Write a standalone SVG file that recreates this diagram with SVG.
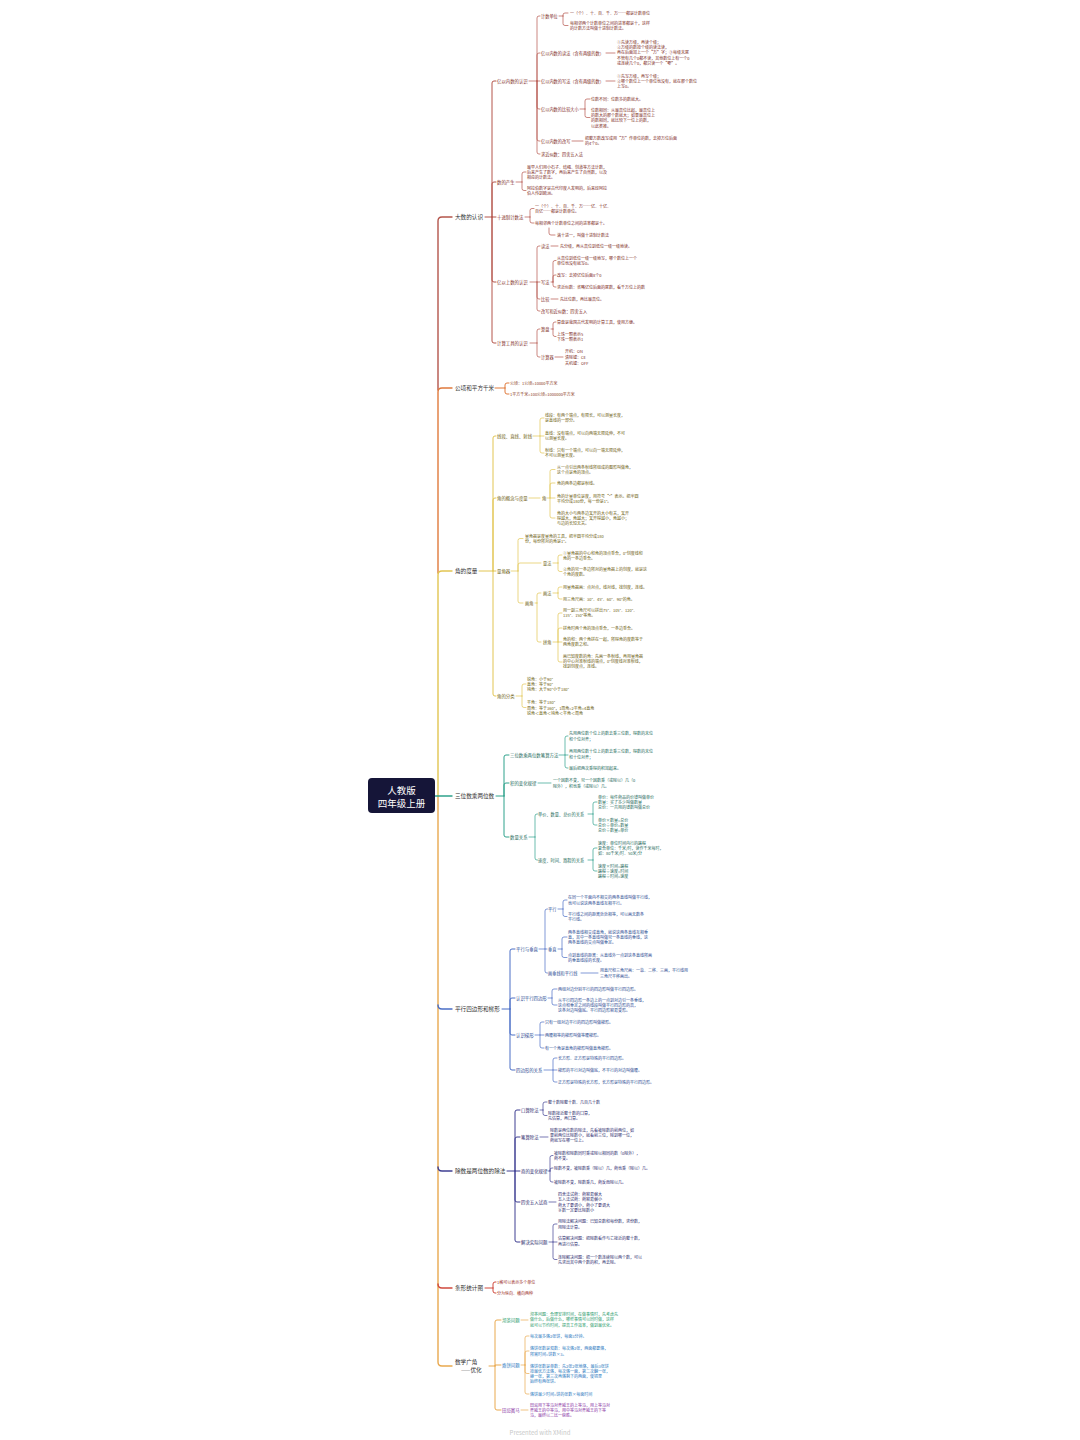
<svg xmlns="http://www.w3.org/2000/svg" width="1080" height="1440" viewBox="0 0 1080 1440">
<style>
.t{font-family:"Noto Sans CJK SC","Noto Sans",sans-serif;dominant-baseline:central}
.r{font-size:9.5px;fill:#fff;text-anchor:middle}
.m{font-size:5.6px;fill:#333}
.s{font-size:4.4px}
.q{font-size:4.2px}
.l{font-size:4px}
.c1{fill:#7E2B24}.c2{fill:#8A3A1A}.c3{fill:#6E5E10}.c4{fill:#1C6A5A}.c5{fill:#2A4A92}.c6{fill:#2C2C6E}.c7{fill:#9A2A22}
.cg{fill:#1F9A6A}.cb{fill:#2A78C0}.cp{fill:#86309F}
.k{fill:none;stroke-linecap:round;stroke-linejoin:round}
.w1{stroke-width:1.4}.w2{stroke-width:1}.w3{stroke-width:0.7}
.k1{stroke:#B4554B}.k2{stroke:#E07A3C}.k3{stroke:#E2C552}.k4{stroke:#2FA28C}.k5{stroke:#4B6FC6}.k6{stroke:#3F3F92}.k7{stroke:#D04A3E}.k8{stroke:#E9A94F}
</style>
<rect width="1080" height="1440" fill="#fff"/>
<g id="connectors">
<path class="k w1 k8" d="M438,796V1362Q438,1366 442,1366H452"/>
<path class="k w1 k5" d="M438,1005Q438,1009 442,1009H452"/>
<path class="k w1 k6" d="M438,1167Q438,1171 442,1171H452"/>
<path class="k w1 k7" d="M438,1284Q438,1288 442,1288H452"/>
<path class="k w1 k1" d="M438,390V221Q438,217 442,217H452"/>
<path class="k w1 k2" d="M438,573V392Q438,388 442,388H452"/>
<path class="k w1 k3" d="M438,796V575Q438,571 442,571H452"/>
<path class="k w1 k4" d="M435,796H452"/>
<path class="k w2 k1" d="M485,217H496M492,217V83Q492,81 494,81H496M492,217V184Q492,182 494,182H496M492,217V280Q492,282 494,282H496M492,217V341Q492,343 494,343H496"/>
<path class="k w3 k1" d="M529,81H540M537,81V18Q537,16 539,16H540M537,81V55Q537,53 539,53H540M537,81V107Q537,109 539,109H540M537,81V139Q537,141 539,141H540M537,81V152Q537,154 539,154H540
M559,16H563M563,16V15Q563,13 565,13H568M563,16V23.5Q563,25.5 565,25.5H568
M606,53H615M606,81H615
M580,109H585M585,109V101Q585,99 587,99H590M585,109V115.5Q585,117.5 587,117.5H590
M572,141H583
M516,182H522M522,182V174Q522,172 524,172H526M522,182V188.5Q522,190.5 524,190.5H526
M525,217H530M530,217V210.5Q530,208.5 532,208.5H534M530,217V221Q530,223 532,223H534M549,228V233Q549,235 551,235H555
M530,282H540M537,282V248Q537,246 539,246H540M537,282V297Q537,299 539,299H540M537,282V309Q537,311 539,311H540
M551,246H558M551,282H553M553,282V262.5Q553,260.5 555,260.5H556M553,282V277Q553,275 555,275H556M553,282V285Q553,287 555,287H556M551,299H558
M530,343H537M537,343V331Q537,329 539,329H540M537,343V355Q537,357 539,357H540
M551,329H553M553,329V324Q553,322 555,322H556M553,329V334.5Q553,336.5 555,336.5H556M555,357H563"/>
<path class="k w2 k2" d="M495,388H505M505,388V385Q505,383 507,383H509M505,388V392Q505,394 507,394H509"/>
<path class="k w2 k3" d="M479,571H496M493,571V438Q493,436 495,436H496M493,571V500Q493,498 495,498H496M493,571V694Q493,696 495,696H496"/>
<path class="k w3 k3" d="M533,436H544M540,436V420Q540,418 542,418H544M540,436V451Q540,453 542,453H544
M529,498H540M547,498H555M550,498V471.5Q550,469.5 552,469.5H555M550,498V485Q550,483 552,483H555M550,498V516Q550,518 552,518H555
M511,571H518M518,571V540.5Q518,538.5 520,538.5H523M518,571V565Q518,563 520,563H541M518,571V601Q518,603 520,603H523
M553,563H558M558,563V557Q558,555 560,555H562M558,563V569.5Q558,571.5 560,571.5H562
M535,603H537M537,603V595Q537,593 539,593H541M537,603V640Q537,642 539,642H541
M553,593H558M558,593V589Q558,587 560,587H562M558,593V597Q558,599 560,599H562
M553,642H562M558,642V615Q558,613 560,613H562M558,642V630Q558,628 560,628H562M558,642V660Q558,662 560,662H562
M516,696H522M522,696V686Q522,684 524,684H526M522,696V705.5Q522,707.5 524,707.5H526"/>
<path class="k w2 k4" d="M496,796H504M504,796V757Q504,755 506,755H509M504,796V785Q504,783 506,783H509M504,796V835Q504,837 506,837H509"/>
<path class="k w3 k4" d="M559,755H568M565,755V738Q565,736 567,736H568M565,755V766Q565,768 567,768H568
M538,783H551
M529,837H535M535,837V816Q535,814 537,814H537.5M535,837V858Q535,860 537,860H537.5
M588,814H593M593,814V804Q593,802 595,802H597M593,814V823Q593,825 595,825H597
M588,860H593M593,860V850Q593,848 595,848H597M593,860V869Q593,871 595,871H597"/>
<path class="k w2 k5" d="M502,1009H510M510,1009V951Q510,949 512,949H515M510,1009V1000Q510,998 512,998H515M510,1009V1033Q510,1035 512,1035H515M510,1009V1068Q510,1070 512,1070H515"/>
<path class="k w3 k5" d="M539,949H547M545,949V911Q545,909 547,909H547.5M545,949V971Q545,973 547,973H547.5
M558,909H563M563,909V902Q563,900 565,900H567M563,909V914.5Q563,916.5 565,916.5H567
M558,949H562M562,949V939Q562,937 564,937H567M562,949V955.5Q562,957.5 564,957.5H567
M581,973H598
M548,998H552M552,998V991Q552,989 554,989H557M552,998V1003Q552,1005 554,1005H557
M535,1035H544M540,1035V1024Q540,1022 542,1022H544M540,1035V1046Q540,1048 542,1048H544
M544,1070H557M553,1070V1060Q553,1058 555,1058H557M553,1070V1080Q553,1082 555,1082H557"/>
<path class="k w2 k6" d="M507,1171H520M515,1171V1112Q515,1110 517,1110H520M515,1171V1139Q515,1137 517,1137H520M515,1171V1200Q515,1202 517,1202H520M515,1171V1240Q515,1242 517,1242H520"/>
<path class="k w3 k6" d="M540,1110H543M543,1110V1104Q543,1102 545,1102H547M543,1110V1113.5Q543,1115.5 545,1115.5H547
M540,1137H548
M548,1171H550M550,1171V1157.5Q550,1155.5 552,1155.5H553M550,1171V1170Q550,1168 552,1168H553M550,1171V1180Q550,1182 552,1182H553
M549,1202H556
M549,1242H557M553,1242V1226Q553,1224 555,1224H557M553,1242V1257.5Q553,1259.5 555,1259.5H557"/>
<path class="k w2 k7" d="M485,1288H493M493,1288V1284Q493,1282 495,1282H496M493,1288V1291Q493,1293 495,1293H496"/>
<path class="k w2 k8" d="M489,1366H495M495,1366V1322Q495,1320 497,1320H501M495,1366V1365H501M495,1366V1408Q495,1410 497,1410H501"/>
<path class="k w3 k8" d="M521,1320H528M521,1365H525M525,1365V1338Q525,1336 527,1336H529M525,1365V1353Q525,1351 527,1351H529M525,1365V1371.5Q525,1373.5 527,1373.5H529M525,1365V1392Q525,1394 527,1394H529M521,1410H528"/>
</g>
<g id="root"><rect x="368" y="778" width="67" height="35" rx="4" fill="#151538"/><text class="t r" x="401.5" y="790">人教版</text><text class="t r" x="401.5" y="803">四年级上册</text></g>
<g id="n1"><text class="t m" x="455" y="217">大数的认识</text></g>
<g id="n1a"><text class="t s c1" x="497" y="81">亿以内数的认识</text></g>
<g id="n1a1"><text class="t q c1" x="541" y="16">计数单位</text></g>
<g id="n1a1a"><text class="t l c1" x="570" y="13">一（个）、十、百、千、万……都是计数单位</text></g>
<g id="n1a1b"><text class="t l c1"><tspan x="570" y="23">每相邻两个计数单位之间的进率都是十，这样</tspan><tspan x="570" y="28.2">的计数方法叫做十进制计数法。</tspan></text></g>
<g id="n1a2"><text class="t q c1" x="541" y="53">亿以内数的读法（含有两级的数）</text></g>
<g id="n1a2a"><text class="t l c1"><tspan x="617" y="42">①先读万级，再读个级；</tspan><tspan x="617" y="47.2">②万级的数按个级的读法读，</tspan><tspan x="617" y="52.4">再在后面加上一个“万”字；③每级末尾</tspan><tspan x="617" y="57.6">不管有几个0都不读，其他数位上有一个0</tspan><tspan x="617" y="62.8">或连续几个0，都只读一个“零”。</tspan></text></g>
<g id="n1a3"><text class="t q c1" x="541" y="81">亿以内数的写法（含有两级的数）</text></g>
<g id="n1a3a"><text class="t l c1"><tspan x="617" y="76">①先写万级，再写个级；</tspan><tspan x="617" y="81.2">②哪个数位上一个单位也没有，就在那个数位</tspan><tspan x="617" y="86.4">上写0。</tspan></text></g>
<g id="n1a4"><text class="t q c1" x="541" y="109">亿以内数的比较大小</text></g>
<g id="n1a4a"><text class="t l c1" x="591" y="99">位数不同：位数多的数就大。</text></g>
<g id="n1a4b"><text class="t l c1"><tspan x="591" y="110">位数相同：从最高位比起，最高位上</tspan><tspan x="591" y="115.2">的数大的那个数就大；如果最高位上</tspan><tspan x="591" y="120.4">的数相同，就比较下一位上的数，</tspan><tspan x="591" y="125.6">以此类推。</tspan></text></g>
<g id="n1a5"><text class="t q c1" x="541" y="141">亿以内数的改写</text></g>
<g id="n1a5a"><text class="t l c1"><tspan x="585" y="138">把整万数改写成用“万”作单位的数，去掉万位后面</tspan><tspan x="585" y="143.2">的4个0。</tspan></text></g>
<g id="n1a6"><text class="t q c1" x="541" y="154">求近似数：四舍五入法</text></g>
<g id="n1b"><text class="t s c1" x="497" y="182">数的产生</text></g>
<g id="n1b1"><text class="t l c1"><tspan x="527" y="167">最早人们用小石子、结绳、刻道等方法计数，</tspan><tspan x="527" y="172.2">后来产生了数字，再后来产生了自然数，以及</tspan><tspan x="527" y="177.4">相应的计数法。</tspan></text></g>
<g id="n1b2"><text class="t l c1"><tspan x="527" y="188">阿拉伯数字是古代印度人发明的，后来经阿拉</tspan><tspan x="527" y="193.2">伯人传到欧洲。</tspan></text></g>
<g id="n1c"><text class="t s c1" x="497" y="217">十进制计数法</text></g>
<g id="n1c1"><text class="t l c1"><tspan x="535" y="206">一（个）、十、百、千、万……亿、十亿、</tspan><tspan x="535" y="211.2">百亿……都是计数单位。</tspan></text></g>
<g id="n1c2"><text class="t l c1" x="535" y="223">每相邻两个计数单位之间的进率都是十。</text></g>
<g id="n1c3"><text class="t l c1" x="557" y="235">满十进一，叫做十进制计数法</text></g>
<g id="n1d"><text class="t s c1" x="497" y="282">亿以上数的认识</text></g>
<g id="n1d1"><text class="t q c1" x="541" y="246">读法</text><text class="t l c1" x="560" y="246">先分级，再从高位到低位一级一级地读。</text></g>
<g id="n1d2"><text class="t q c1" x="541" y="282">写法</text></g>
<g id="n1d2a"><text class="t l c1"><tspan x="557" y="258">从高位到低位一级一级地写，哪个数位上一个</tspan><tspan x="557" y="263.2">单位也没有就写0。</tspan></text></g>
<g id="n1d2b"><text class="t l c1" x="557" y="275">改写：去掉亿位后面8个0</text></g>
<g id="n1d2c"><text class="t l c1" x="557" y="287">求近似数：省略亿位后面的尾数，看千万位上的数</text></g>
<g id="n1d3"><text class="t q c1" x="541" y="299">比较</text><text class="t l c1" x="560" y="299">先比位数，再比最高位。</text></g>
<g id="n1d4"><text class="t q c1" x="541" y="311">改写和近似数：四舍五入</text></g>
<g id="n1e"><text class="t s c1" x="497" y="343">计算工具的认识</text></g>
<g id="n1e1"><text class="t q c1" x="541" y="329">算盘</text></g>
<g id="n1e1a"><text class="t l c1" x="557" y="322">算盘是我国古代发明的计算工具，使用方便。</text></g>
<g id="n1e1b"><text class="t l c1"><tspan x="557" y="334">上珠一颗表示5</tspan><tspan x="557" y="339.2">下珠一颗表示1</tspan></text></g>
<g id="n1e2"><text class="t q c1" x="541" y="357">计算器</text></g>
<g id="n1e2a"><text class="t l c1"><tspan x="565" y="351">开机：ON</tspan><tspan x="565" y="357">清除键：CE</tspan><tspan x="565" y="363">关机键：OFF</tspan></text></g>
<g id="n2"><text class="t m" x="455" y="388">公顷和平方千米</text></g>
<g id="n2a"><text class="t l c2" x="510" y="383">公顷：1公顷=10000平方米</text></g>
<g id="n2b"><text class="t l c2" x="510" y="394">1平方千米=100公顷=1000000平方米</text></g>
<g id="n3"><text class="t m" x="455" y="571">角的度量</text></g>
<g id="n3a"><text class="t s c3" x="497" y="436">线段、直线、射线</text></g>
<g id="n3a1"><text class="t l c3"><tspan x="545" y="415">线段：有两个端点，有限长，可以测量长度，</tspan><tspan x="545" y="420.2">是直线的一部分。</tspan></text></g>
<g id="n3a2"><text class="t l c3"><tspan x="545" y="433">直线：没有端点，可以向两端无限延伸，不可</tspan><tspan x="545" y="438.2">以测量长度。</tspan></text></g>
<g id="n3a3"><text class="t l c3"><tspan x="545" y="450">射线：只有一个端点，可以向一端无限延伸，</tspan><tspan x="545" y="455.2">不可以测量长度。</tspan></text></g>
<g id="n3b"><text class="t s c3" x="497" y="498">角的概念与度量</text></g>
<g id="n3b0"><text class="t s c3" x="542" y="498">角</text></g>
<g id="n3b1"><text class="t l c3"><tspan x="557" y="467">从一点引出两条射线所组成的图形叫做角，</tspan><tspan x="557" y="472.2">这个点是角的顶点。</tspan></text></g>
<g id="n3b2"><text class="t l c3" x="557" y="483">角的两条边都是射线。</text></g>
<g id="n3b3"><text class="t l c3"><tspan x="557" y="496">角的计量单位是度，用符号“°”表示。把半圆</tspan><tspan x="557" y="501.2">平均分成180份，每一份是1°。</tspan></text></g>
<g id="n3b4"><text class="t l c3"><tspan x="557" y="513">角的大小与两条边叉开的大小有关，叉开</tspan><tspan x="557" y="518.2">得越大，角越大；叉开得越小，角越小；</tspan><tspan x="557" y="523.4">与边的长短无关。</tspan></text></g>
<g id="n3c"><text class="t s c3" x="497" y="571">量角器</text></g>
<g id="n3c1"><text class="t l c3"><tspan x="525" y="536">量角器是度量角的工具，把半圆平均分成180</tspan><tspan x="525" y="541.2">份，每份所对的角是1°。</tspan></text></g>
<g id="n3c2"><text class="t q c3" x="543" y="563">量法</text></g>
<g id="n3c2a"><text class="t l c3"><tspan x="563" y="553">①量角器的中心和角的顶点重合，0°刻度线和</tspan><tspan x="563" y="558.2">角的一条边重合。</tspan></text></g>
<g id="n3c2b"><text class="t l c3"><tspan x="563" y="569">②角的另一条边所对的量角器上的刻度，就是这</tspan><tspan x="563" y="574.2">个角的度数。</tspan></text></g>
<g id="n3c3"><text class="t q c3" x="525" y="603">画角</text></g>
<g id="n3c3a"><text class="t q c3" x="543" y="593">画法</text></g>
<g id="n3c3a1"><text class="t l c3" x="563" y="587">用量角器画：点对点，线对线，找刻度，连线。</text></g>
<g id="n3c3a2"><text class="t l c3" x="563" y="599">用三角尺画：30°、45°、60°、90°的角。</text></g>
<g id="n3c3b"><text class="t q c3" x="543" y="642">拼角</text></g>
<g id="n3c3b1"><text class="t l c3"><tspan x="563" y="610">用一副三角尺可以拼出75°、105°、120°、</tspan><tspan x="563" y="615.2">135°、150°等角。</tspan></text></g>
<g id="n3c3b2"><text class="t l c3" x="563" y="628">拼角时两个角的顶点重合，一条边重合。</text></g>
<g id="n3c3b3"><text class="t l c3"><tspan x="563" y="639">角的和：两个角拼在一起，所得角的度数等于</tspan><tspan x="563" y="644.2">两角度数之和。</tspan></text></g>
<g id="n3c3b4"><text class="t l c3"><tspan x="563" y="656">画已知度数的角：先画一条射线，再用量角器</tspan><tspan x="563" y="661.2">的中心对准射线的端点，0°刻度线对准射线，</tspan><tspan x="563" y="666.4">找到刻度点，连线。</tspan></text></g>
<g id="n3d"><text class="t s c3" x="497" y="696">角的分类</text></g>
<g id="n3d1"><text class="t l c3"><tspan x="527" y="678.8">锐角：小于90°</tspan><tspan x="527" y="684">直角：等于90°</tspan><tspan x="527" y="689.2">钝角：大于90°小于180°</tspan></text></g>
<g id="n3d2"><text class="t l c3"><tspan x="527" y="702.3">平角：等于180°</tspan><tspan x="527" y="707.5">周角：等于360°，1周角=2平角=4直角</tspan><tspan x="527" y="712.7">锐角＜直角＜钝角＜平角＜周角</tspan></text></g>
<g id="n4"><text class="t m" x="455" y="796">三位数乘两位数</text></g>
<g id="n4a"><text class="t s c4" x="510" y="755">三位数乘两位数笔算方法</text></g>
<g id="n4a1"><text class="t l c4"><tspan x="569" y="733.4">先用两位数个位上的数去乘三位数，得数的末位</tspan><tspan x="569" y="738.6">和个位对齐；</tspan></text></g>
<g id="n4a2"><text class="t l c4"><tspan x="569" y="751.4">再用两位数十位上的数去乘三位数，得数的末位</tspan><tspan x="569" y="756.6">和十位对齐；</tspan></text></g>
<g id="n4a3"><text class="t l c4" x="569" y="768">最后把两次乘得的积加起来。</text></g>
<g id="n4b"><text class="t s c4" x="510" y="783">积的变化规律</text></g>
<g id="n4b1"><text class="t l c4"><tspan x="553" y="780.4">一个因数不变，另一个因数乘（或除以）几（0</tspan><tspan x="553" y="785.6">除外），积也乘（或除以）几。</tspan></text></g>
<g id="n4c"><text class="t s c4" x="510" y="837">数量关系</text></g>
<g id="n4c1"><text class="t q c4" x="538" y="814">单价、数量、总价的关系</text></g>
<g id="n4c1a"><text class="t l c4"><tspan x="598" y="796.8">单价：每件商品的价钱叫做单价</tspan><tspan x="598" y="802">数量：买了多少叫做数量</tspan><tspan x="598" y="807.2">总价：一共用的钱数叫做总价</tspan></text></g>
<g id="n4c1b"><text class="t l c4"><tspan x="598" y="819.8">单价×数量=总价</tspan><tspan x="598" y="825">总价÷单价=数量</tspan><tspan x="598" y="830.2">总价÷数量=单价</tspan></text></g>
<g id="n4c2"><text class="t q c4" x="538" y="860">速度、时间、路程的关系</text></g>
<g id="n4c2a"><text class="t l c4"><tspan x="598" y="842.8">速度：单位时间内行的路程</tspan><tspan x="598" y="848">复合单位：千米/时，读作千米每时，</tspan><tspan x="598" y="853.2">如：80千米/时、50米/分</tspan></text></g>
<g id="n4c2b"><text class="t l c4"><tspan x="598" y="865.8">速度×时间=路程</tspan><tspan x="598" y="871">路程÷速度=时间</tspan><tspan x="598" y="876.2">路程÷时间=速度</tspan></text></g>
<g id="n5"><text class="t m" x="455" y="1009">平行四边形和梯形</text></g>
<g id="n5a"><text class="t s c5" x="516" y="949">平行与垂直</text></g>
<g id="n5a1"><text class="t q c5" x="548" y="909">平行</text></g>
<g id="n5a1a"><text class="t l c5"><tspan x="568" y="897.4">在同一个平面内不相交的两条直线叫做平行线，</tspan><tspan x="568" y="902.6">也可以说这两条直线互相平行。</tspan></text></g>
<g id="n5a1b"><text class="t l c5"><tspan x="568" y="913.9">平行线之间的距离处处相等，可以画无数条</tspan><tspan x="568" y="919.1">平行线。</tspan></text></g>
<g id="n5a2"><text class="t q c5" x="548" y="949">垂直</text></g>
<g id="n5a2a"><text class="t l c5"><tspan x="568" y="931.8">两条直线相交成直角，就说这两条直线互相垂</tspan><tspan x="568" y="937">直，其中一条直线叫做另一条直线的垂线，这</tspan><tspan x="568" y="942.2">两条直线的交点叫做垂足。</tspan></text></g>
<g id="n5a2b"><text class="t l c5"><tspan x="568" y="954.9">点到直线的距离：从直线外一点到这条直线所画</tspan><tspan x="568" y="960.1">的垂直线段的长度。</tspan></text></g>
<g id="n5a3"><text class="t q c5" x="548" y="973">画垂线和平行线</text></g>
<g id="n5a3a"><text class="t l c5"><tspan x="600" y="970.4">用直尺和三角尺画：一靠、二移、三画，平行线用</tspan><tspan x="600" y="975.6">三角尺平移画出。</tspan></text></g>
<g id="n5b"><text class="t s c5" x="516" y="998">认识平行四边形</text></g>
<g id="n5b1"><text class="t l c5" x="558" y="989">两组对边分别平行的四边形叫做平行四边形。</text></g>
<g id="n5b2"><text class="t l c5"><tspan x="558" y="999.8">从平行四边形一条边上的一点到对边引一条垂线，</tspan><tspan x="558" y="1005">这点和垂足之间的线段叫做平行四边形的高，</tspan><tspan x="558" y="1010.2">这条对边叫做底。平行四边形容易变形。</tspan></text></g>
<g id="n5c"><text class="t s c5" x="516" y="1035">认识梯形</text></g>
<g id="n5c1"><text class="t l c5" x="545" y="1022">只有一组对边平行的四边形叫做梯形。</text></g>
<g id="n5c2"><text class="t l c5" x="545" y="1035">两腰相等的梯形叫做等腰梯形。</text></g>
<g id="n5c3"><text class="t l c5" x="545" y="1048">有一个角是直角的梯形叫做直角梯形。</text></g>
<g id="n5d"><text class="t s c5" x="516" y="1070">四边形的关系</text></g>
<g id="n5d1"><text class="t l c5" x="558" y="1058">长方形、正方形是特殊的平行四边形。</text></g>
<g id="n5d2"><text class="t l c5" x="558" y="1070">梯形的平行对边叫做底，不平行的对边叫做腰。</text></g>
<g id="n5d3"><text class="t l c5" x="558" y="1082">正方形是特殊的长方形，长方形是特殊的平行四边形。</text></g>
<g id="n6"><text class="t m" x="455" y="1171">除数是两位数的除法</text></g>
<g id="n6a"><text class="t s c6" x="521" y="1110">口算除法</text></g>
<g id="n6a1"><text class="t l c6" x="548" y="1102">整十数除整十数、几百几十数</text></g>
<g id="n6a2"><text class="t l c6"><tspan x="548" y="1112.9">除数接近整十数的口算，</tspan><tspan x="548" y="1118.1">先估算，再口算。</tspan></text></g>
<g id="n6b"><text class="t s c6" x="521" y="1137">笔算除法</text></g>
<g id="n6b1"><text class="t l c6"><tspan x="550" y="1129.8">除数是两位数的除法，先看被除数的前两位，如</tspan><tspan x="550" y="1135">果前两位比除数小，就看前三位，除到哪一位，</tspan><tspan x="550" y="1140.2">商就写在哪一位上。</tspan></text></g>
<g id="n6c"><text class="t s c6" x="521" y="1171">商的变化规律</text></g>
<g id="n6c1"><text class="t l c6"><tspan x="554" y="1152.9">被除数和除数同时乘或除以相同的数（0除外），</tspan><tspan x="554" y="1158.1">商不变。</tspan></text></g>
<g id="n6c2"><text class="t l c6" x="554" y="1168">除数不变，被除数乘（除以）几，商也乘（除以）几。</text></g>
<g id="n6c3"><text class="t l c6" x="554" y="1182">被除数不变，除数乘几，商反而除以几。</text></g>
<g id="n6d"><text class="t s c6" x="521" y="1202">四舍五入试商</text></g>
<g id="n6d1"><text class="t l c6"><tspan x="558" y="1193.8">四舍法试商：商容易偏大</tspan><tspan x="558" y="1199.2">五入法试商：商容易偏小</tspan><tspan x="558" y="1204.6">商大了要调小，商小了要调大</tspan><tspan x="558" y="1210">余数一定要比除数小</tspan></text></g>
<g id="n6e"><text class="t s c6" x="521" y="1242">解决实际问题</text></g>
<g id="n6e1"><text class="t l c6"><tspan x="558" y="1221.4">用除法解决问题：已知总数和每份数，求份数，</tspan><tspan x="558" y="1226.6">用除法计算。</tspan></text></g>
<g id="n6e2"><text class="t l c6"><tspan x="558" y="1238.4">估算解决问题：把除数看作与它接近的整十数，</tspan><tspan x="558" y="1243.6">再进行估算。</tspan></text></g>
<g id="n6e3"><text class="t l c6"><tspan x="558" y="1256.9">连除解决问题：把一个数连续除以两个数，可以</tspan><tspan x="558" y="1262.1">先求出其中两个数的积，再去除。</tspan></text></g>
<g id="n7"><text class="t m" x="455" y="1288">条形统计图</text></g>
<g id="n7a"><text class="t l c7" x="497" y="1282">1格可以表示多个单位</text></g>
<g id="n7b"><text class="t l c7" x="497" y="1293">分为纵向、横向两种</text></g>
<g id="n8"><text class="t m" x="455" y="1362">数学广角</text><text class="t m" x="461" y="1370">——优化</text></g>
<g id="n8a"><text class="t s cg" x="502" y="1320">沏茶问题</text></g>
<g id="n8a1"><text class="t l cg"><tspan x="530" y="1314.2">沏茶问题：合理安排时间，在做事情时，先考虑先</tspan><tspan x="530" y="1319.4">做什么，后做什么，哪些事情可以同时做，这样</tspan><tspan x="530" y="1324.6">就可以节约时间，提高工作效率，做到最优化。</tspan></text></g>
<g id="n8b"><text class="t s cb" x="502" y="1365">烙饼问题</text></g>
<g id="n8b1"><text class="t l cb" x="530" y="1336">每次最多烙2张饼，每面3分钟。</text></g>
<g id="n8b2"><text class="t l cb"><tspan x="530" y="1348.4">烙饼张数是双数：每次烙2张，两面都要烙，</tspan><tspan x="530" y="1353.6">所需时间=饼数×3。</tspan></text></g>
<g id="n8b3"><text class="t l cb"><tspan x="530" y="1365.7">烙饼张数是单数：先2张2张地烙，最后3张饼</tspan><tspan x="530" y="1370.9">按最优方法烙，每次烙一面，第二次翻一张，</tspan><tspan x="530" y="1376.1">换一张，第三次再烙剩下的两面，使锅里</tspan><tspan x="530" y="1381.3">始终有两张饼。</tspan></text></g>
<g id="n8b4"><text class="t l cb" x="530" y="1394">烙饼最少时间=饼的张数×每面时间</text></g>
<g id="n8c"><text class="t s cp" x="502" y="1410">田忌赛马</text></g>
<g id="n8c1"><text class="t l cp"><tspan x="530" y="1404.8">田忌用下等马对齐威王的上等马，用上等马对</tspan><tspan x="530" y="1410">齐威王的中等马，用中等马对齐威王的下等</tspan><tspan x="530" y="1415.2">马，最终以二比一获胜。</tspan></text></g>
<g id="footer"><text class="t" x="540" y="1432" font-size="6" fill="#c8c8c8" text-anchor="middle">Presented with XMind</text></g>
</svg>
